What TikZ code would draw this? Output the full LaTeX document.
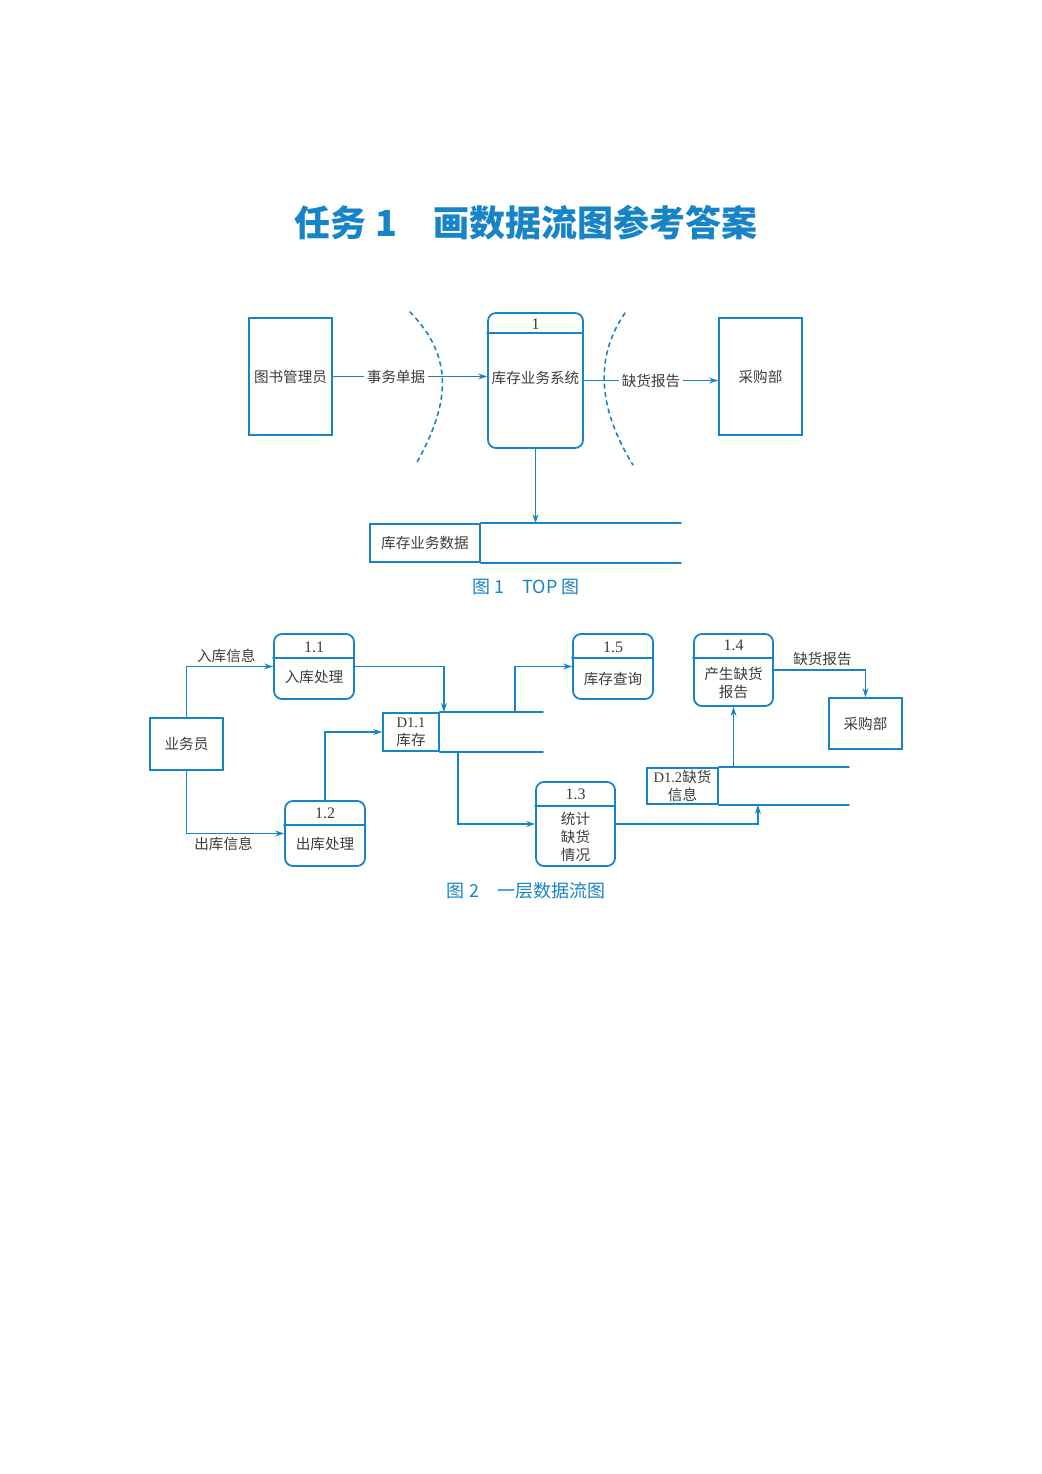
\documentclass[tikz,border=0pt]{standalone}
\usepackage{fontspec}
\setmainfont{Noto Sans CJK SC}
\newfontfamily\tmfont{Liberation Serif}
\usepackage{tikz}
\usetikzlibrary{arrows.meta}
\definecolor{dfdblue}{RGB}{24,132,200}
\definecolor{dfdtext}{RGB}{60,60,60}

\begin{document}
\begin{tikzpicture}[x=0.5pt,y=-0.5pt,>={Stealth[length=4.5pt,width=3pt]},line cap=round,
  font=\fontsize{7.3pt}{9pt}\selectfont,text=dfdtext,
  box/.style={draw=dfdblue,line width=0.9pt,inner sep=0pt},
  proc/.style={box,rounded corners=4pt},
  flow/.style={->,draw=dfdblue,line width=0.75pt},
  lbl/.style={inner sep=1.5pt},
  num/.style={font=\tmfont\fontsize{8pt}{9pt}\selectfont},
  figcap/.style={text=dfdblue,font=\fontsize{9pt}{11pt}\selectfont}]
\fill[white] (0,0) rectangle (1041,1474);
\useasboundingbox (0,0) rectangle (1041,1474);
\node[text=dfdblue,font=\bfseries\fontsize{18pt}{20pt}\selectfont] (title) at (526,223) {任务 1\quad 画数据流图参考答案};

\node[box,minimum width=41.5pt,minimum height=58.5pt] (lib) at (290.5,376.5) {图书管理员};
\node[box,minimum width=41.5pt,minimum height=58.5pt] (buyA) at (760.5,376.5) {采购部};
\node[proc,minimum width=47.5pt,minimum height=67.5pt] (sys) at (535.5,380.5) {};
\draw[box] (sys.north west) ++(0,21) -- ++(95,0);
\node[num] (sysn) at (535.5,324) {1};
\node (syst) at (535.5,378) {库存业务系统};
\node[box,minimum width=55pt,minimum height=19pt] (dsA) at (425,543) {库存业务数据};
\draw[box] (dsA.north east) -- ++(200,0) (dsA.south east) -- ++(200,0);
\draw[dfdblue,line width=0.8pt,dash pattern=on 2pt off 2.2pt] (410,312) .. controls (452,355) and (452,400) .. (417,462);
\draw[dfdblue,line width=0.8pt,dash pattern=on 2pt off 2.2pt] (625,313) .. controls (596,355) and (596,405) .. (633,465);
\draw[flow] (lib.east) -- (lib.east -| sys.west) node[lbl,fill=white,pos=0.41] {事务单据};
\draw[flow] (sys.east) -- (sys.east -| buyA.west) node[lbl,fill=white,pos=0.5] {缺货报告};
\draw[flow] (sys.south) -- (sys.south |- dsA.north);
\node[figcap] (capA) at (526,587) {图 1\quad TOP 图};

\node[box,minimum width=36.5pt,minimum height=26pt] (clerk) at (186.5,744) {业务员};
\node[proc,minimum width=40pt,minimum height=32.5pt] (pA) at (314,666.5) {};
\draw[box] (pA.north west) ++(0,25) -- ++(80,0);
\node[num] (pAn) at (314,647) {1.1};
\node (pAt) at (314,677) {入库处理};
\node[proc,minimum width=40pt,minimum height=32.5pt] (pB) at (325,833.5) {};
\draw[box] (pB.north west) ++(0,25) -- ++(80,0);
\node[num] (pBn) at (325,813) {1.2};
\node (pBt) at (325,844) {出库处理};
\node[proc,minimum width=39.5pt,minimum height=42pt] (pC) at (575.5,824) {};
\draw[box] (pC.north west) ++(0,25) -- ++(79,0);
\node[num] (pCn) at (575.5,794) {1.3};
\node[align=center] (pCt) at (575.5,837) {统计\\缺货\\情况};
\node[proc,minimum width=39.5pt,minimum height=36pt] (pD) at (733.5,670) {};
\draw[box] (pD.north west) ++(0,25) -- ++(79,0);
\node[num] (pDn) at (733.5,645) {1.4};
\node[align=center] (pDt) at (733.5,683) {产生缺货\\报告};
\node[proc,minimum width=40pt,minimum height=32.5pt] (pE) at (613,666.5) {};
\draw[box] (pE.north west) ++(0,25) -- ++(80,0);
\node[num] (pEn) at (613,647) {1.5};
\node (pEt) at (613,679) {库存查询};
\node[box,minimum width=28pt,minimum height=19pt,align=center] (dB) at (411,732) {{\tmfont D1.1}\\库存};
\draw[box] (dB.north east) -- ++(103,0) (dB.south east) -- ++(103,0);
\node[box,minimum width=35.5pt,minimum height=18pt,align=center] (dC) at (682.5,786) {{\tmfont D1.2}缺货\\信息};
\draw[box] (dC.north east) -- ++(130,0) (dC.south east) -- ++(130,0);
\node[box,minimum width=36.5pt,minimum height=25.5pt] (buyB) at (865.5,723.5) {采购部};
\draw[flow] (clerk.north) |- (pA.west) node[lbl,above,pos=0.73] {入库信息};
\draw[flow] (clerk.south) |- (pB.west) node[lbl,below,pos=0.69] {出库信息};
\draw[flow] (pA.east) -| ([xshift=2pt]dB.north east);
\draw[flow] (pB.north) |- (dB.west);
\draw[flow] ([xshift=37.5pt]dB.north east) |- (pE.west);
\draw[flow] ([xshift=9pt]dB.south east) |- (pC.west);
\draw[flow] (pC.east) -| ([xshift=19.5pt]dC.south east);
\draw[flow] (pD.south |- dC.north) -- (pD.south);
\draw[flow] (pD.east) -| (buyB.north) node[lbl,above,pos=0.265] {缺货报告};
\node[figcap] (capB) at (526,891) {图 2\quad 一层数据流图};
\end{tikzpicture}
\end{document}
